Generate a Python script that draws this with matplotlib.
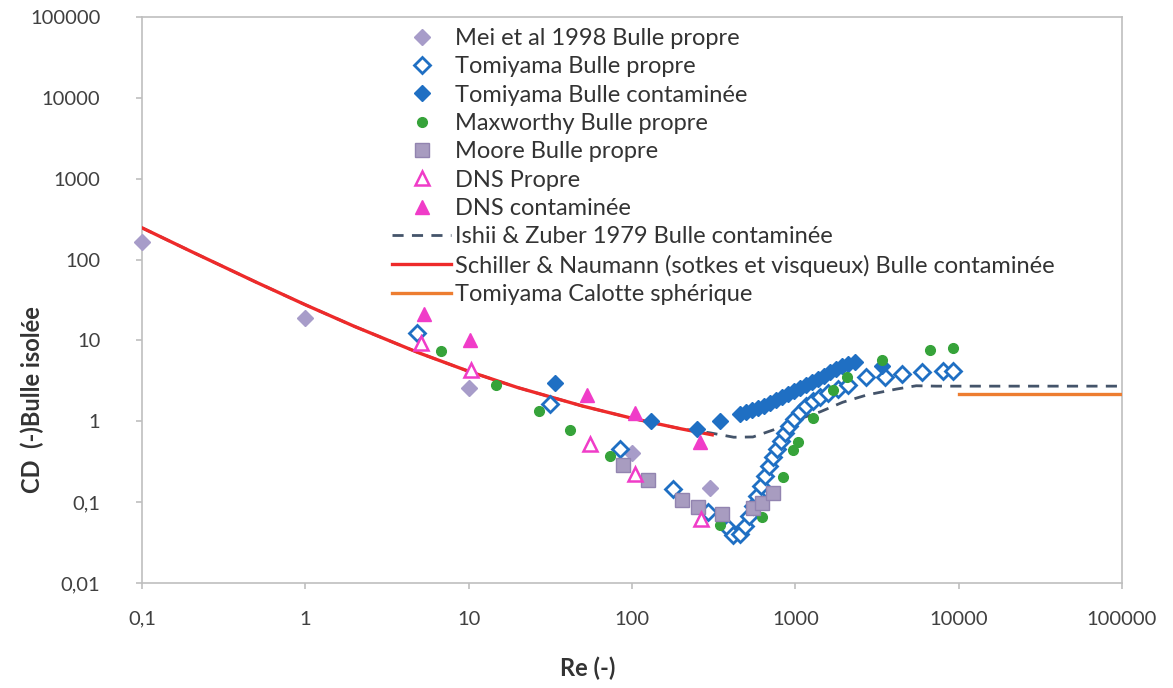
import matplotlib
matplotlib.use("Agg")
import matplotlib.pyplot as plt
from matplotlib.ticker import FixedLocator, FixedFormatter, NullLocator

plt.rcParams['font.family'] = ['Lato', 'DejaVu Sans']

# values (Re, CD)
mei_re = [0.1, 1.0, 10, 100, 300]
mei_cd = [165, 19, 2.55, 0.41, 0.148]

tomi_clean_re = [4.8, 31.5, 85, 178, 290,
                 388, 416, 459, 493, 521, 551, 583, 617, 653, 691, 731, 774,
                 818, 866, 916, 983, 1070, 1164, 1285, 1419, 1586, 1829, 2104,
                 2714, 3548, 4509, 5975, 8035, 9250]
tomi_clean_cd = [12.5, 1.63, 0.46, 0.145, 0.075,
                 0.048, 0.039, 0.040, 0.051, 0.067, 0.090, 0.119, 0.158, 0.211,
                 0.280, 0.362, 0.454, 0.571, 0.717, 0.875, 1.07, 1.30, 1.55,
                 1.78, 2.0, 2.24, 2.51, 2.81, 3.53, 3.53, 3.85, 4.07, 4.19, 4.19]

tomi_cont_re = [34, 130, 250, 346, 459, 500, 544, 592, 644, 701, 763, 830, 903,
                983, 1070, 1164, 1267, 1378, 1500, 1633, 1777, 1933, 2104, 2323,
                3398]
tomi_cont_cd = [2.95, 1.02, 0.80, 1.0, 1.23, 1.30, 1.38, 1.46, 1.55, 1.68, 1.83,
                2.0, 2.18, 2.37, 2.58, 2.81, 3.06, 3.33, 3.63, 4.07, 4.43, 4.83,
                5.11, 5.41, 4.83]

maxw_re = [6.8, 14.6, 27, 42, 73, 346, 624, 845, 973, 1045, 1290, 1711, 2065,
           3390, 6680, 9290]
maxw_cd = [7.5, 2.8, 1.35, 0.78, 0.37, 0.052, 0.066, 0.206, 0.44, 0.56, 1.09,
           2.44, 3.56, 5.8, 7.6, 8.0]

moore_re = [88, 126, 202, 252, 357, 553, 624, 735]
moore_cd = [0.29, 0.186, 0.106, 0.086, 0.072, 0.084, 0.097, 0.128]

dns_clean_re = [5.1, 10.4, 55, 104, 264]
dns_clean_cd = [9.2, 4.3, 0.53, 0.22, 0.062]

dns_cont_re = [5.3, 10.2, 53, 104, 259]
dns_cont_cd = [21.5, 10.0, 2.1, 1.28, 0.56]

ishii_re = [0.1, 0.2, 0.5, 1, 2, 5, 10, 20, 50, 100, 200, 300, 420, 550, 730,
            1020, 1420, 1950, 2750, 4150, 5500, 7300, 100000]
ishii_cd = [247, 126, 52.5, 27.6, 14.9, 6.97, 4.15, 2.61, 1.54, 1.09, 0.806,
            0.72, 0.635, 0.64, 0.78, 1.04, 1.31, 1.72, 2.12, 2.5, 2.75, 2.72,
            2.72]

schiller_re = [0.1, 0.2, 0.5, 1, 2, 5, 10, 20, 50, 100, 200, 310]
schiller_cd = [247, 126, 52.5, 27.6, 14.9, 6.97, 4.15, 2.61, 1.54, 1.09, 0.806,
               0.68]

cap_re = [10000, 100000]
cap_cd = [2.2, 2.2]

x_ticks = [0.1, 1, 10, 100, 1000, 10000, 100000]
x_labels = ["0,1", "1", "10", "100", "1000", "10000", "100000"]
y_ticks = [0.01, 0.1, 1, 10, 100, 1000, 10000, 100000]
y_labels = ["0,01", "0,1", "1", "10", "100", "1000", "10000", "100000"]

W, H = 1173, 688
fig = plt.figure(figsize=(W / 100, H / 100), dpi=100)
ax = fig.add_axes([142 / W, 1 - 583 / H, (1122 - 142) / W, (583 - 17) / H])

purple = "#A79CC9"
blue = "#1F6FC3"
green = "#36A33A"
pink = "#F03CC8"

ax.plot(mei_re, mei_cd, ls="none", marker="D", ms=8.5, color=purple,
        label="Mei et al 1998 Bulle propre", zorder=4, clip_on=False)
ax.plot(tomi_clean_re, tomi_clean_cd, ls="none", marker="D", ms=8, mfc="white",
        mec=blue, mew=2, label="Tomiyama Bulle propre", zorder=4)
ax.plot(tomi_cont_re, tomi_cont_cd, ls="none", marker="D", ms=8.5, color=blue,
        label="Tomiyama Bulle contaminée", zorder=4)
ax.plot(maxw_re, maxw_cd, ls="none", marker="o", ms=7, color=green,
        label="Maxworthy Bulle propre", zorder=4)
ax.plot(moore_re, moore_cd, ls="none", marker="s", ms=9.5, mfc="#A89CC0",
        mec="#9284B0", mew=1, label="Moore Bulle propre", zorder=4)
ax.plot(dns_clean_re, dns_clean_cd, ls="none", marker="^", ms=10, mfc="white",
        mec=pink, mew=1.8, label="DNS Propre", zorder=4)
ax.plot(dns_cont_re, dns_cont_cd, ls="none", marker="^", ms=10.5, color=pink,
        label="DNS contaminée", zorder=4)
ax.plot(ishii_re, ishii_cd, ls=(0, (4, 3)), lw=2, color="#44546A",
        label="Ishii & Zuber 1979 Bulle contaminée", zorder=2)
ax.plot(schiller_re, schiller_cd, lw=2.4, color="#EE2A2A",
        label="Schiller & Naumann (sotkes et visqueux) Bulle contaminée", zorder=3)
ax.plot(cap_re, cap_cd, lw=2.4, color="#ED7D31",
        label="Tomiyama Calotte sphérique", zorder=3)

ax.set_xscale("log")
ax.set_yscale("log")
ax.set_xlim(0.1, 100000)
ax.set_ylim(0.01, 100000)
ax.xaxis.set_major_locator(FixedLocator(x_ticks))
ax.xaxis.set_major_formatter(FixedFormatter(x_labels))
ax.yaxis.set_major_locator(FixedLocator(y_ticks))
ax.yaxis.set_major_formatter(FixedFormatter(y_labels))
ax.xaxis.set_minor_locator(NullLocator())
ax.yaxis.set_minor_locator(NullLocator())

for s in ax.spines.values():
    s.set_color("#BFBFBF")
    s.set_linewidth(1.2)
ax.tick_params(axis="both", which="major", length=4, width=1.2, color="#BFBFBF",
               labelcolor="#404040", labelsize=14.5)
ax.tick_params(axis="x", pad=16)
ax.tick_params(axis="y", pad=26)

fig.text(588 / W, 1 - 668 / H, "Re (-)", ha="center", va="center",
         fontsize=17, fontweight="bold", color="#333333")
fig.text(32 / W, 1 - 400 / H, "CD  (-)Bulle isolée", ha="center", va="center",
         rotation=90, fontsize=17, fontweight="bold", color="#333333")

ax.legend(loc="upper left", bbox_to_anchor=(392 / W, 1 - 28 / H),
          bbox_transform=fig.transFigure, frameon=False, fontsize=17,
          handlelength=2.5, handletextpad=0.15, borderpad=0, borderaxespad=0,
          labelspacing=0.31, labelcolor="#333333")

fig.savefig("out.png", dpi=100)
